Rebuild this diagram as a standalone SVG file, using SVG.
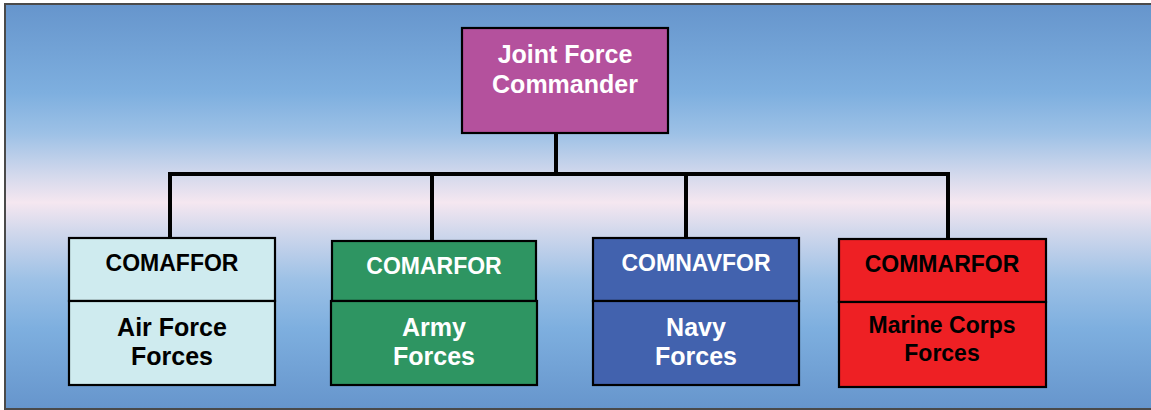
<svg xmlns="http://www.w3.org/2000/svg" width="1151" height="410" viewBox="0 0 1151 410">
<defs>
<linearGradient id="bg" x1="0" y1="4" x2="0" y2="409" gradientUnits="userSpaceOnUse">
<stop offset="0" stop-color="#6695cc"/>
<stop offset="0.22" stop-color="#7eafdf"/>
<stop offset="0.32" stop-color="#9dc1e6"/>
<stop offset="0.42" stop-color="#d2d8ec"/>
<stop offset="0.49" stop-color="#f5e7f0"/>
<stop offset="0.56" stop-color="#d2d8ec"/>
<stop offset="0.68" stop-color="#9dc1e6"/>
<stop offset="0.8" stop-color="#7eafdf"/>
<stop offset="1" stop-color="#6695cc"/>
</linearGradient>
</defs>
<style>
.box{stroke:#000;stroke-width:2.2}
.t{font-family:"Liberation Sans",Arial,sans-serif;font-weight:bold;text-anchor:middle}
.hd{font-size:23px}
.bd{font-size:25px}
.w{fill:#fff}
.k{fill:#000}
.conn{stroke:#000;stroke-width:4;fill:none}
</style>
<rect x="5" y="4" width="1150" height="405" fill="url(#bg)" stroke="#4a4a4a" stroke-width="2"/>
<g id="connectors">
<line class="conn" x1="556" y1="133" x2="556" y2="174"/>
<polyline class="conn" points="170,239 170,174 948,174 948,239"/>
<line class="conn" x1="432" y1="174" x2="432" y2="241"/>
<line class="conn" x1="686" y1="174" x2="686" y2="239"/>
</g>
<g id="jfc">
<rect class="box" x="462" y="28" width="206" height="105" fill="#b4519d"/>
<text class="t bd w" x="565" y="63">Joint Force</text>
<text class="t bd w" x="565" y="93">Commander</text>
</g>
<g id="comaffor">
<rect class="box" x="69" y="238" width="206" height="63" fill="#cfebef"/>
<rect class="box" x="69" y="301" width="206" height="84" fill="#cfebef"/>
<text class="t hd k" x="172" y="271">COMAFFOR</text>
<text class="t bd k" x="172" y="336">Air Force</text>
<text class="t bd k" x="172" y="365">Forces</text>
</g>
<g id="comarfor">
<rect class="box" x="332" y="241" width="204" height="60" fill="#2e9562"/>
<rect class="box" x="331" y="301" width="206" height="84" fill="#2e9562"/>
<text class="t hd w" x="434" y="274">COMARFOR</text>
<text class="t bd w" x="434" y="336">Army</text>
<text class="t bd w" x="434" y="365">Forces</text>
</g>
<g id="comnavfor">
<rect class="box" x="593" y="238" width="206" height="63" fill="#4262ae"/>
<rect class="box" x="593" y="301" width="206" height="84" fill="#4262ae"/>
<text class="t hd w" x="696" y="271">COMNAVFOR</text>
<text class="t bd w" x="696" y="336">Navy</text>
<text class="t bd w" x="696" y="365">Forces</text>
</g>
<g id="commarfor">
<rect class="box" x="839" y="239" width="207" height="63" fill="#ee2024"/>
<rect class="box" x="839" y="302" width="207" height="85" fill="#ee2024"/>
<text class="t hd k" x="942" y="272">COMMARFOR</text>
<text class="t k" style="font-size:23px" x="942" y="333">Marine Corps</text>
<text class="t k" style="font-size:23px" x="942" y="361">Forces</text>
</g>
</svg>
